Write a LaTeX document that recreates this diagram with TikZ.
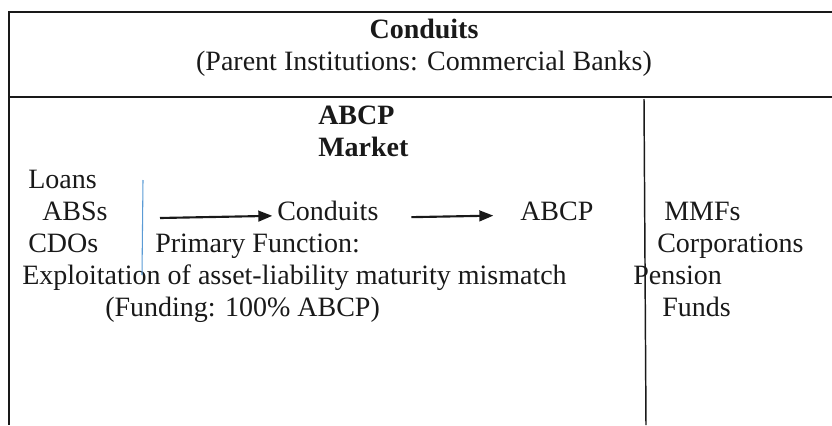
\documentclass[tikz,border=0pt]{standalone}
\usepackage{fontspec}
\setmainfont{Liberation Serif}
\usetikzlibrary{arrows.meta}
\definecolor{inkgray}{RGB}{25, 25, 25}
\definecolor{ruleblue}{RGB}{91, 155, 213}

\begin{document}
\begin{tikzpicture}[x=0.75pt, y=-0.75pt,
        txt/.style={font=\fontsize{21}{24}\selectfont, text=inkgray, inner sep=0pt, anchor=base west},
        ttl/.style={txt, font=\fontsize{21}{24}\selectfont\bfseries},
        frame/.style={draw=inkgray, line width=1.6pt},
        flow/.style={draw=inkgray, line width=1.6pt, -{Triangle[length=10.5pt, width=8pt]}}]

                \useasboundingbox (0, 0) rectangle (832, 425);

                \draw[frame] (832, 12) -- (9, 12) -- (9, 425);
                \draw[frame] (9, 97) -- (832, 97);
                \draw[draw=inkgray, line width=1.1pt] (644, 99) -- (646, 425);

                \node[ttl, anchor=base] (headconduits) at (424, 38) {Conduits};
                \node[txt, anchor=base] (headparent) at (424, 70)
                    {(Parent Institutions: Commercial Banks)};

                \node[ttl] (mkabcp) at (318, 124) {ABCP};
                \node[ttl] (mkmarket) at (318, 156) {Market};

                \node[txt] (loans) at (28, 188) {Loans};
                \node[txt] (abss) at (42, 220) {ABSs};
                \node[txt] (cdos) at (28, 252) {CDOs};
                \node[txt] (exploit) at (22, 284)
                    {Exploitation of asset-liability maturity mismatch};
                \node[txt] (funding) at (105, 316) {(Funding: 100\% ABCP)};

                \node[txt] (conduits) at (277, 220) {Conduits};
                \node[txt] (primary) at (155, 252) {Primary Function:};
                \node[txt] (abcp) at (520, 220) {ABCP};

                \node[txt] (mmfs) at (664, 220) {MMFs};
                \node[txt] (corps) at (657, 252) {Corporations};
                \node[txt] (pension) at (633, 284) {Pension};
                \node[txt] (funds) at (662, 316) {Funds};

                \draw[ruleblue, line width=0.8pt] (143, 180) -- (142, 275);

                \coordinate (flowstart) at (160, 218);
                \draw[flow, shorten >=3.5pt] (flowstart) -- ([yshift=-4pt]conduits.west);
                \draw[flow, shorten <=24.5pt, shorten >=20pt]
                    ([yshift=-5.5pt]conduits.east) -- ([yshift=-3.2pt]abcp.west);

            \end{tikzpicture}
\end{document}
